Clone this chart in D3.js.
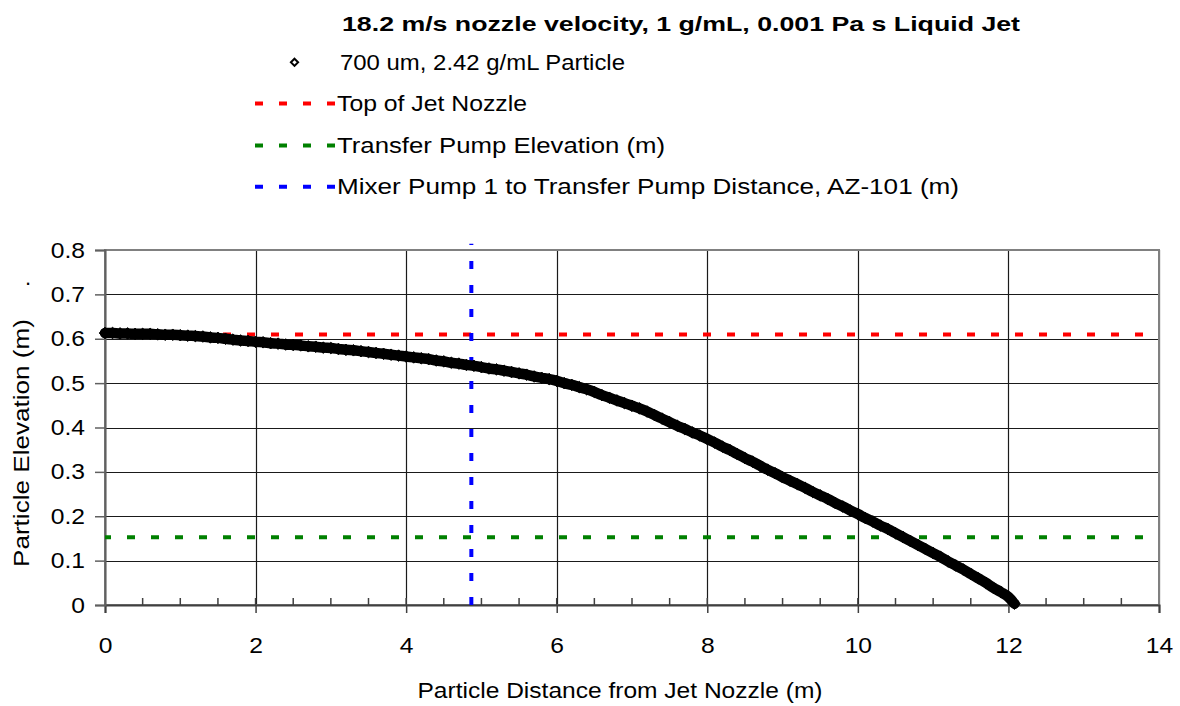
<!DOCTYPE html>
<html><head><meta charset="utf-8">
<script src="https://cdn.jsdelivr.net/npm/d3@7"></script>
<style>
body{margin:0;background:#fff}
svg{display:block}
text{font-family:"Liberation Sans",Arial,sans-serif;fill:#000}
</style>
</head><body>
<svg id="chart" width="1180" height="706"></svg>
<script>
// ---- data ----
const titleText = "18.2 m/s nozzle velocity, 1 g/mL, 0.001 Pa s Liquid Jet";
const seriesNames = ["700 um, 2.42 g/mL Particle", "Top of Jet Nozzle", "Transfer Pump Elevation (m)", "Mixer Pump 1 to Transfer Pump Distance, AZ-101 (m)"];
const xTitle = "Particle Distance from Jet Nozzle (m)";
const yTitle = "Particle Elevation (m)";

const distance = [0.0,0.1,0.2,0.3,0.4,0.5,0.6,0.7,0.8,0.9,
  1.0,1.1,1.2,1.3,1.4,1.5,1.6,1.7,1.8,1.9,
  2.0,2.1,2.2,2.3,2.4,2.5,2.6,2.7,2.8,2.9,
  3.0,3.1,3.2,3.3,3.4,3.5,3.6,3.7,3.8,3.9,
  4.0,4.1,4.2,4.3,4.4,4.5,4.6,4.7,4.8,4.9,
  5.0,5.1,5.2,5.3,5.4,5.5,5.6,5.7,5.8,5.9,
  6.0,6.1,6.2,6.3,6.4,6.5,6.6,6.7,6.8,6.9,
  7.0,7.1,7.2,7.3,7.4,7.5,7.6,7.7,7.8,7.9,
  8.0,8.1,8.2,8.3,8.4,8.5,8.6,8.7,8.8,8.9,
  9.0,9.1,9.2,9.3,9.4,9.5,9.6,9.7,9.8,9.9,
  10.0,10.1,10.2,10.3,10.4,10.5,10.6,10.7,10.8,10.9,
  11.0,11.1,11.2,11.3,11.4,11.5,11.6,11.7,11.8,11.9,
  12.0,12.08];
const elevation = [0.613,0.613,0.612,0.612,0.611,0.611,0.611,0.610,0.609,0.609,
  0.608,0.607,0.606,0.605,0.603,0.602,0.600,0.598,0.596,0.595,
  0.593,0.592,0.590,0.589,0.587,0.586,0.585,0.583,0.582,0.580,
  0.579,0.577,0.575,0.574,0.572,0.570,0.568,0.566,0.564,0.562,
  0.560,0.558,0.556,0.554,0.551,0.549,0.546,0.544,0.541,0.539,
  0.536,0.533,0.531,0.528,0.525,0.522,0.519,0.515,0.512,0.509,
  0.505,0.500,0.496,0.491,0.486,0.480,0.473,0.467,0.461,0.455,
  0.449,0.443,0.436,0.428,0.420,0.412,0.404,0.397,0.389,0.382,
  0.374,0.366,0.357,0.349,0.340,0.331,0.323,0.314,0.305,0.297,
  0.288,0.280,0.272,0.264,0.255,0.247,0.239,0.230,0.222,0.213,
  0.205,0.196,0.188,0.179,0.171,0.162,0.153,0.144,0.135,0.126,
  0.117,0.108,0.098,0.089,0.080,0.070,0.060,0.050,0.039,0.029,
  0.018,0.003];

const topOfNozzleX = [0, 14];
const topOfNozzleY = [0.6096, 0.6096];
const pumpElevX = [0, 14];
const pumpElevY = [0.1524, 0.1524];
const mixerDistX = [4.866, 4.866];
const mixerDistY = [0, 0.814];

const xTicks = [0,2,4,6,8,10,12,14];
const xMinorTicks = [0.5,1,1.5,2,2.5,3,3.5,4,4.5,5,5.5,6,6.5,7,7.5,8,8.5,9,9.5,10,10.5,11,11.5,12,12.5,13,13.5];
const yTicks = [0,0.1,0.2,0.3,0.4,0.5,0.6,0.7,0.8];
const yTickLabels = ["0","0.1","0.2","0.3","0.4","0.5","0.6","0.7","0.8"];

// ---- drawing ----
const svg = d3.select("#chart");
const L = 105, R = 1159, T = 250, B = 605;
const x = d3.scaleLinear().domain([0, 14]).range([L, R]);
const y = d3.scaleLinear().domain([0, 0.8]).range([B, T]);

function fitWidth(sel, len){
  sel.attr("textLength", len).attr("lengthAdjust", "spacingAndGlyphs");
}
function stretch(sel, f){
  sel.each(function(){
    const w = this.getComputedTextLength();
    this.setAttribute("textLength", w * f);
    this.setAttribute("lengthAdjust", "spacingAndGlyphs");
  });
}

// gridlines
svg.append("g").selectAll("line").data(yTicks).join("line")
  .attr("x1", L).attr("x2", R).attr("y1", d => Math.round(y(d)) + 0.5).attr("y2", d => Math.round(y(d)) + 0.5)
  .attr("stroke", "#1a1a1a").attr("stroke-width", 1.2);
svg.append("g").selectAll("line").data(xTicks).join("line")
  .attr("y1", T).attr("y2", B).attr("x1", d => Math.round(x(d)) + 0.5).attr("x2", d => Math.round(x(d)) + 0.5)
  .attr("stroke", "#1a1a1a").attr("stroke-width", 1.2);

// frame
svg.append("rect").attr("x", L).attr("y", T).attr("width", R - L).attr("height", B - T)
  .attr("fill", "none").attr("stroke", "#808080").attr("stroke-width", 2);

// x axis
const xAxis = svg.append("g").attr("transform", `translate(0,${B})`)
  .call(d3.axisBottom(x).tickValues(xTicks).tickFormat(d3.format("d")).tickSize(8).tickPadding(24));
xAxis.select(".domain").attr("stroke", "#404040").attr("stroke-width", 2);
xAxis.selectAll(".tick line").attr("stroke", "#404040").attr("stroke-width", 1.5);
xAxis.selectAll("text").attr("font-size", 22).attr("font-family", '"Liberation Sans",Arial,sans-serif').attr("fill", "#000");
stretch(xAxis.selectAll("text"), 1.12);

// minor ticks (inside)
svg.append("g").selectAll("line").data(xMinorTicks).join("line")
  .attr("x1", d => x(d)).attr("x2", d => x(d)).attr("y1", B).attr("y2", B - 7)
  .attr("stroke", "#404040").attr("stroke-width", 1.5);

// y axis
const yAxis = svg.append("g").attr("transform", `translate(${L},0)`)
  .call(d3.axisLeft(y).tickValues(yTicks).tickFormat((d, i) => yTickLabels[i]).tickSize(10).tickPadding(10));
yAxis.select(".domain").attr("stroke", "#606060").attr("stroke-width", 2);
yAxis.selectAll(".tick line").attr("stroke", "#606060").attr("stroke-width", 1.5);
yAxis.selectAll("text").attr("font-size", 22).attr("font-family", '"Liberation Sans",Arial,sans-serif').attr("fill", "#000");
stretch(yAxis.selectAll("text"), 1.12);

// reference lines
const line = d3.line().x(d => x(d[0])).y(d => y(d[1]));
svg.append("path").datum(d3.zip(topOfNozzleX, topOfNozzleY)).attr("d", line)
  .attr("stroke", "#ff0000").attr("stroke-width", 4).attr("stroke-dasharray", "8,16").attr("stroke-dashoffset", 2).attr("fill", "none");
svg.append("path").datum(d3.zip(pumpElevX, pumpElevY)).attr("d", line)
  .attr("stroke", "#008000").attr("stroke-width", 4).attr("stroke-dasharray", "8,16").attr("stroke-dashoffset", 2).attr("fill", "none");
svg.append("path").datum(d3.zip(mixerDistX, mixerDistY)).attr("d", line)
  .attr("stroke", "#0000ff").attr("stroke-width", 4).attr("stroke-dasharray", "8,16").attr("fill", "none");

// particle markers (densely packed markers form a solid band)
const particle = d3.zip(distance, elevation);
svg.append("path").datum(particle).attr("d", d3.line().x(d => x(d[0])).y(d => y(d[1])).curve(d3.curveMonotoneX))
  .attr("fill", "none").attr("stroke", "#000").attr("stroke-width", 10.5)
  .attr("stroke-linejoin", "round").attr("stroke-linecap", "round");
const diamond = r => `M0,${-r}L${r},0L0,${r}L${-r},0Z`;
svg.append("g").selectAll("path").data(particle).join("path")
  .attr("transform", d => `translate(${x(d[0])},${y(d[1])})`)
  .attr("d", diamond(5.8)).attr("fill", "#000").attr("stroke", "#000").attr("stroke-width", 1);

// title
svg.append("text").attr("x", 342).attr("y", 31).attr("font-size", 21).attr("font-weight", "bold")
  .text(titleText).call(fitWidth, 678);

// legend
const legendRows = [62.3, 103.5, 145.5, 186.7];
const legendWidths = [285, 190, 328, 622];
const legendColors = [null, "#ff0000", "#008000", "#0000ff"];
const lg = svg.append("g");
legendRows.forEach((ry, i) => {
  if (i === 0) {
    lg.append("path").attr("transform", `translate(294.5,${ry})`).attr("d", diamond(3.6))
      .attr("fill", "#fff").attr("stroke", "#000").attr("stroke-width", 2);
  } else {
    lg.append("line").attr("x1", 255).attr("x2", 335).attr("y1", ry).attr("y2", ry)
      .attr("stroke", legendColors[i]).attr("stroke-width", 4).attr("stroke-dasharray", "8,16");
  }
  lg.append("text").attr("x", i === 0 ? 340 : 337).attr("y", ry + 7.5).attr("font-size", 22)
    .text(seriesNames[i]).call(fitWidth, legendWidths[i]);
});

// axis titles
svg.append("text").attr("x", 620).attr("y", 698).attr("text-anchor", "middle").attr("font-size", 22)
  .text(xTitle).call(fitWidth, 405);
svg.append("text").attr("transform", "translate(29,443) rotate(-90)").attr("text-anchor", "middle").attr("font-size", 22)
  .text(yTitle).call(fitWidth, 248);
svg.append("text").attr("x", 25).attr("y", 285).attr("font-size", 22).text(".");
</script>
</body></html>
